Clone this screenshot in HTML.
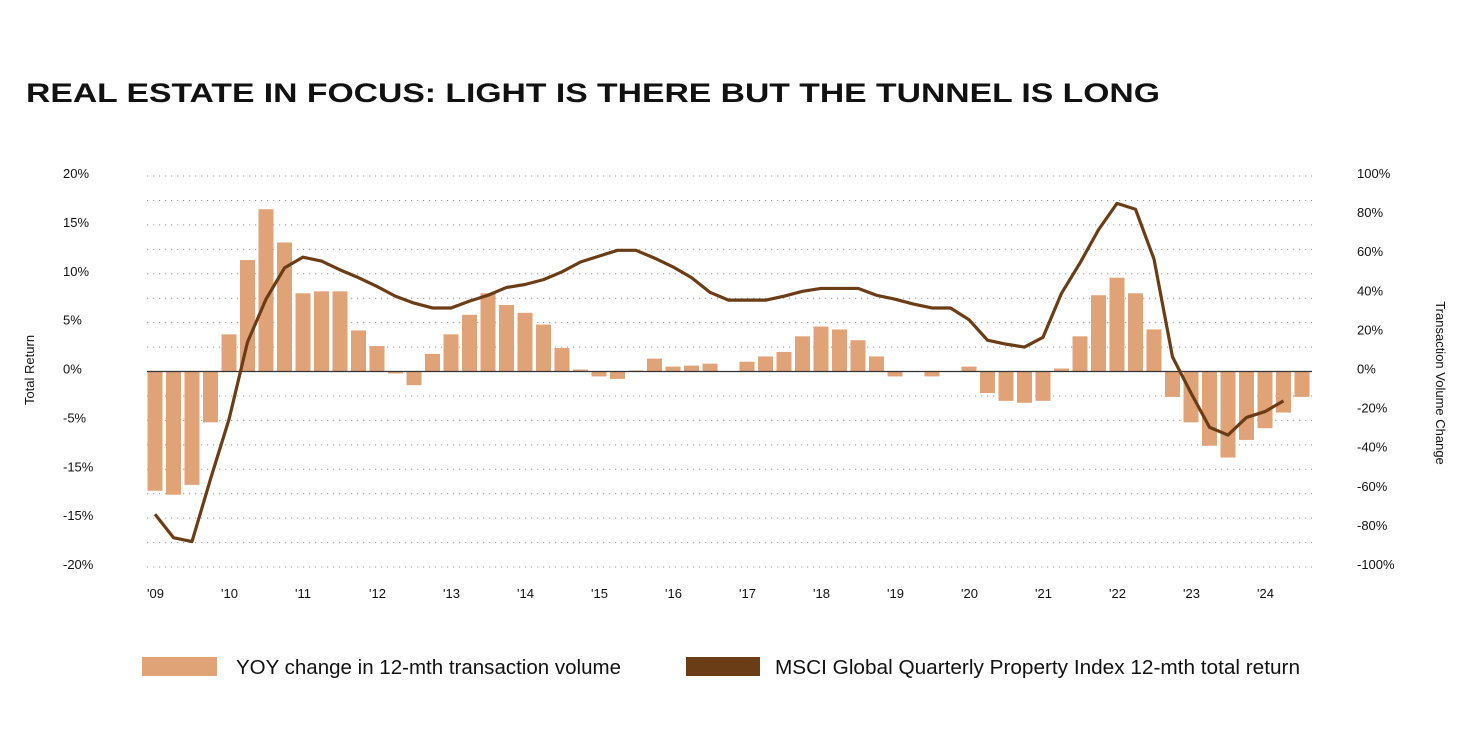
<!DOCTYPE html>
<html><head><meta charset="utf-8"><style>
html,body{margin:0;padding:0;background:#fff;}
svg{display:block;font-family:"Liberation Sans",sans-serif;}
</style></head><body>
<svg id="chart" width="1476" height="745" viewBox="0 0 1476 745">
<text x="26" y="102" font-size="27" font-weight="bold" textLength="1134" lengthAdjust="spacingAndGlyphs" fill="#111">REAL ESTATE IN FOCUS: LIGHT IS THERE BUT THE TUNNEL IS LONG</text>
<g id="grid"></g>
<g id="bars"></g>
<line id="zero" x1="147" x2="1312" stroke="#333" stroke-width="1.2"/>
<path id="line" fill="none" stroke="#6B3D17" stroke-width="3.2" stroke-linejoin="round"/>
<g id="yl" font-size="13" fill="#111"></g>
<g id="yr" font-size="13" fill="#111"></g>
<g id="xl" font-size="13" fill="#111"></g>
<text transform="translate(34,370) rotate(-90)" text-anchor="middle" font-size="13" fill="#111">Total Return</text>
<text transform="translate(1436,383) rotate(90)" text-anchor="middle" font-size="13" fill="#111">Transaction Volume Change</text>
<g>
<rect x="142" y="657" width="75" height="19" fill="#E0A277"/>
<text x="236" y="674" font-size="20" fill="#111" textLength="385" lengthAdjust="spacingAndGlyphs">YOY change in 12-mth transaction volume</text>
<rect x="686" y="657" width="74" height="19" fill="#6B3D17"/>
<text x="775" y="674" font-size="20" fill="#111" textLength="525" lengthAdjust="spacingAndGlyphs">MSCI Global Quarterly Property Index 12-mth total return</text>
</g>
</svg>
<script>
const volume = [-61,-63,-58,-26,19,57,83,66,40,41,41,21,13,-1,-7,9,19,29,40,34,30,24,12,1,-2.5,-3.8,0.5,6.6,2.5,3,4,0,5,7.7,10,18,23,21.5,16,7.7,-2.5,0,-2.5,0,2.5,-11,-15,-16,-15,1.5,18,39,48,40,21.5,-13,-26,-38,-44,-35,-29,-21,-13];
const totalReturn = [-14.6,-17,-17.4,-11,-4.9,3,7.4,10.6,11.7,11.3,10.4,9.6,8.7,7.7,7,6.5,6.5,7.2,7.8,8.6,8.9,9.4,10.2,11.2,11.8,12.4,12.4,11.6,10.7,9.6,8.1,7.3,7.3,7.3,7.7,8.2,8.5,8.5,8.5,7.8,7.4,6.9,6.5,6.5,5.3,3.2,2.8,2.5,3.5,8,11.1,14.5,17.2,16.6,11.5,1.5,-2.2,-5.7,-6.5,-4.7,-4.1,-3];
const leftTicks = ["20%","15%","10%","5%","0%","-5%","-15%","-15%","-20%"];
const rightTicks = ["100%","80%","60%","40%","20%","0%","-20%","-40%","-60%","-80%","-100%"];
const yearLabels = ["'09","'10","'11","'12","'13","'14","'15","'16","'17","'18","'19","'20","'21","'22","'23","'24"];

const NS="http://www.w3.org/2000/svg";
const top0=176, bot=567, zeroY=(top0+bot)/2, left=147, right=1312;
const xq=i=>155+i*18.5;
const yL=v=>zeroY-v*(bot-top0)/40;
const yR=v=>zeroY-v*(bot-top0)/200;
function mk(t,a,p){const e=document.createElementNS(NS,t);for(const k in a)e.setAttribute(k,a[k]);p.appendChild(e);return e;}
const grid=document.getElementById('grid');
for(let k=0;k<=16;k++){const y=top0+k*(bot-top0)/16;
 const l=mk('line',{x1:left,x2:right,y1:y,y2:y,stroke:'#999','stroke-width':1,'stroke-dasharray':'1.2 4.8'},grid);
 
 }
document.getElementById('zero').setAttribute('y1',zeroY);
document.getElementById('zero').setAttribute('y2',zeroY);
const bars=document.getElementById('bars');
volume.forEach((v,i)=>{const y0=yR(0),y1=yR(v);
 const r=mk('rect',{x:xq(i)-7.5,y:Math.min(y0,y1),width:15,height:Math.abs(y1-y0),fill:'#E0A277'},bars);
 
 });
document.getElementById('line').setAttribute('d',totalReturn.map((v,i)=>(i?'L':'M')+xq(i)+','+yL(v)).join(' '));
const yl=document.getElementById('yl');
leftTicks.forEach((t,i)=>{const e=mk('text',{x:63,y:top0+i*(bot-top0)/8+2},yl);e.textContent=t;
 
 });
const yr=document.getElementById('yr');
rightTicks.forEach((t,i)=>{const e=mk('text',{x:1357,y:top0+i*(bot-top0)/10+2},yr);e.textContent=t;
 
 });
const xl=document.getElementById('xl');
yearLabels.forEach((t,i)=>{const e=mk('text',{x:xq(i*4)-8,y:598},xl);e.textContent=t;
 
 });
</script>
</body></html>
